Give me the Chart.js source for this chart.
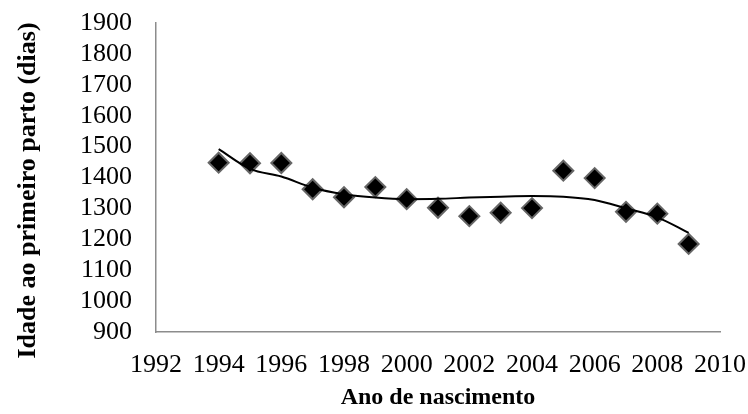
<!DOCTYPE html>
<html>
<head>
<meta charset="utf-8">
<script src="https://cdn.jsdelivr.net/npm/chart.js@4"></script>
<style>
  body { margin: 0; background: #fff; }
  #wrap { width: 748px; height: 414px; }
</style>
</head>
<body>
<div id="wrap"><canvas id="chart"></canvas></div>
<script>
  // Ano de nascimento vs idade ao primeiro parto
  const anos = [1994, 1995, 1996, 1997, 1998, 1999, 2000, 2001, 2002, 2003, 2004, 2005, 2006, 2007, 2008, 2009];
  const idade = [1448, 1446, 1447, 1362, 1336, 1369, 1330, 1302, 1275, 1286, 1301, 1422, 1398, 1289, 1283, 1185];
  // trend line (polynomial fit)
  const tendencia = [1492, 1428, 1403, 1367, 1346, 1335, 1330, 1331, 1335, 1338, 1340, 1338, 1327, 1300, 1271, 1221];

  const serif = "'Liberation Serif', 'Times New Roman', serif";

  var ctx = document.getElementById('chart').getContext('2d');
  new Chart(ctx, {
    type: 'scatter',
    data: {
      datasets: [{
        label: 'Idade',
        data: anos.map((a, i) => ({ x: a, y: idade[i] })),
        pointStyle: 'rectRot',
        pointRadius: 10,
        pointHoverRadius: 10,
        backgroundColor: '#000',
        borderColor: '#666',
        borderWidth: 2,
        order: 1
      }, {
        label: 'Tendência',
        type: 'line',
        data: anos.map((a, i) => ({ x: a, y: tendencia[i] })),
        borderColor: '#000',
        borderWidth: 2,
        pointRadius: 0,
        cubicInterpolationMode: 'monotone',
        fill: false,
        order: 0
      }]
    },
    options: {
      responsive: true,
      maintainAspectRatio: false,
      animation: false,
      layout: { padding: { left: 0, right: 28, top: 23, bottom: 0 } },
      scales: {
        x: {
          type: 'linear',
          min: 1992,
          max: 2010,
          grid: { display: false, drawTicks: false },
          border: { display: true, color: '#8c8c8c', width: 1.5 },
          ticks: {
            stepSize: 2,
            padding: 18,
            autoSkip: false,
            maxRotation: 0,
            color: '#000',
            font: { family: serif, size: 26 },
            callback: v => String(v)
          },
          title: {
            display: true,
            text: 'Ano de nascimento',
            color: '#000',
            font: { family: serif, size: 24, weight: 'bold' },
            padding: { top: 0, bottom: 2 }
          },
          afterFit: s => { s.height = 82; s.paddingLeft = 0; s.paddingRight = 0; }
        },
        y: {
          min: 900,
          max: 1900,
          grid: { display: false, drawTicks: false },
          border: { display: true, color: '#8c8c8c', width: 1.5 },
          ticks: {
            stepSize: 100,
            padding: 24,
            autoSkip: false,
            color: '#000',
            font: { family: serif, size: 26 },
            callback: v => String(v)
          },
          title: {
            display: true,
            // trailing spaces push the rotated title a bit lower, like the original
            text: 'Idade ao primeiro parto (dias)    ',
            color: '#000',
            font: { family: serif, size: 26, weight: 'bold' },
            padding: { top: 13, bottom: 0 }
          },
          afterFit: s => { s.width = 156; s.paddingTop = 0; s.paddingBottom = 0; }
        }
      },
      plugins: {
        legend: { display: false },
        tooltip: { enabled: false }
      }
    }
  });
</script>
</body>
</html>
